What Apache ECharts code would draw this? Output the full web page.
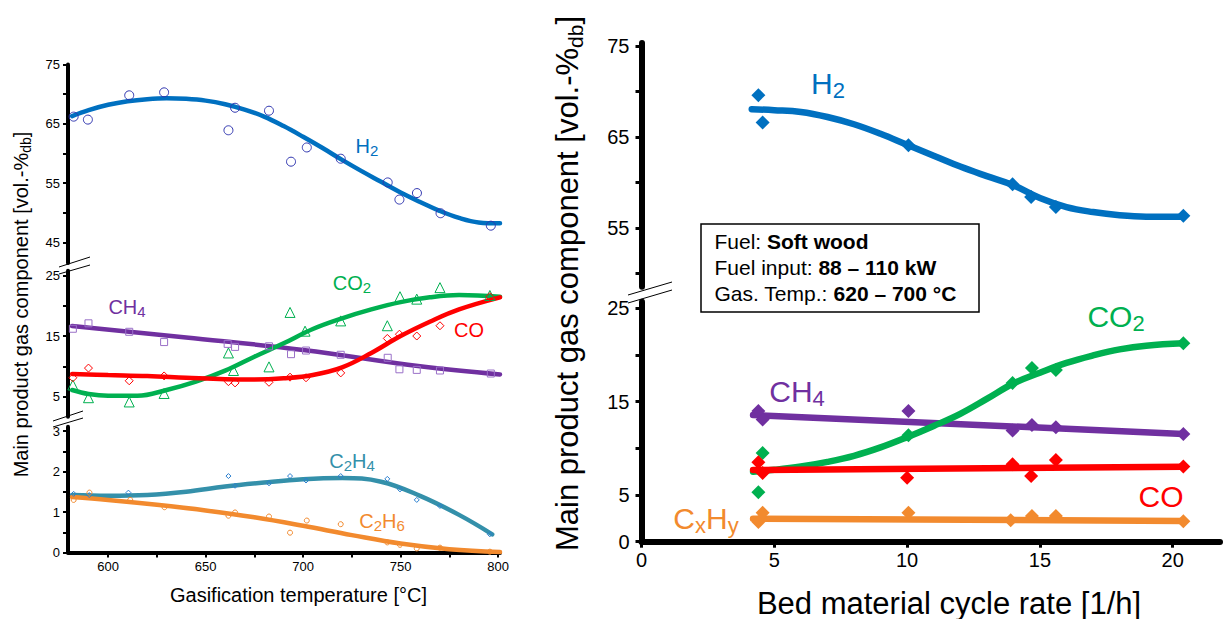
<!DOCTYPE html>
<html><head><meta charset="utf-8">
<script src="https://cdn.jsdelivr.net/npm/echarts@6/dist/echarts.min.js"></script>
<style>html,body{margin:0;padding:0;background:#fff}#c{width:1225px;height:619px}</style>
</head><body><div id="c"></div>
<script>
// ---------- LEFT PANEL DATA (x = gasification temperature in °C) ----------
const h2PtsL = [[582.3,66.2],[589.6,65.7],[610.8,69.8],[628.7,70.3],[661.7,63.9],[665.1,67.7],[682.5,67.2],[693.8,58.6],[701.9,61.0],[719.3,59.1],[743.4,55.1],[749.4,52.2],[758.4,53.3],[770.5,49.9],[796.3,47.8]];
const h2FitL = [[581.5,66.3],[590,67.3],[600,68.2],[610,68.8],[620,69.15],[630,69.3],[640,69.2],[650,68.9],[660,68.3],[670,67.4],[680,66.2],[690,64.6],[700,62.8],[710,60.9],[720,58.9],[730,57.0],[740,55.2],[750,53.4],[760,51.8],[770,50.3],[780,49.1],[790,48.35],[801,48.2]];
const ch4PtsL = [[581.9,16.2],[589.9,17.1],[610.8,15.7],[628.7,14.0],[661.3,13.7],[665.1,13.2],[682.5,13.3],[693.8,12.0],[701.5,12.6],[719.3,11.9],[743.4,11.4],[749.4,9.5],[758.3,9.4],[770.2,9.3],[796.3,8.8]];
const ch4FitL = [[581.5,16.65],[640,14.75],[700,12.7],[760,10.0],[801,8.65]];
const co2PtsL = [[581.9,6.9],[589.9,4.8],[610.8,4.1],[628.7,5.5],[661.7,12.2],[664.3,9.3],[682.5,9.9],[693.3,18.9],[701.0,15.8],[719.3,17.5],[743.2,16.7],[749.7,21.5],[758.3,21.1],[770.2,23.0],[795.8,21.7]];
const co2FitL = [[581.5,6.07],[590,5.41],[600,5.13],[615,5.13],[630,6.07],[645,7.45],[660,9.27],[675,11.58],[690,13.79],[705,16.16],[720,17.93],[735,19.4],[750,20.6],[765,21.4],[780,21.78],[801,21.5]];
const coPtsL = [[581.9,8.1],[589.9,9.7],[610.8,7.6],[628.7,8.4],[661.7,7.45],[665.1,7.25],[682.5,7.35],[693.3,8.2],[701.5,8.1],[719.3,8.9],[743.2,14.6],[749.4,15.3],[758.3,15.0],[770.2,16.7],[795.8,21.5]];
const coFitL = [[581.5,8.72],[600,8.55],[620,8.39],[640,8.1],[660,7.84],[675,7.8],[690,8.0],[705,8.55],[720,9.82],[735,12.2],[750,15.0],[765,17.37],[780,19.41],[801,21.4]];
const c2h4PtsL = [[582.3,1.45],[590.3,1.42],[610.4,1.48],[661.7,1.89],[665.1,1.65],[682.5,1.71],[693.3,1.89],[701.5,1.78],[719.3,1.89],[743.2,1.82],[749.7,1.56],[758.3,1.30],[770.2,1.15],[795.8,0.45]];
const c2h4FitL = [[581.5,1.42],[600,1.40],[620,1.42],[640,1.50],[660,1.63],[680,1.73],[700,1.81],[720,1.84],[740,1.75],[760,1.40],[780,0.93],[797,0.45]];
const c2h6PtsL = [[582.3,1.30],[590.4,1.48],[611.3,1.30],[628.9,1.12],[661.7,0.91],[665.1,0.99],[682.5,0.89],[693.3,0.49],[701.9,0.79],[719.3,0.70],[743.2,0.25],[749.7,0.19],[758.3,0.10],[770.2,0.12],[795.8,0.02]];
const c2h6FitL = [[581.5,1.37],[600,1.30],[625,1.18],[650,1.04],[675,0.87],[700,0.66],[725,0.43],[750,0.22],[775,0.08],[801,0.01]];

// ---------- RIGHT PANEL DATA (x = bed material cycle rate in 1/h) ----------
const h2PtsR = [[4.40,69.6],[4.56,66.6],[10.05,64.1],[13.97,59.8],[14.67,58.4],[15.6,57.3],[20.4,56.35]];
const h2FitR = [[4.15,68.05],[5,67.95],[6,67.75],[7,67.2],[8,66.4],[9,65.35],[10,64.15],[11,62.95],[12,61.75],[13,60.7],[14,59.7],[15,58.3],[16,57.3],[17,56.75],[18,56.4],[19,56.25],[20.4,56.25]];
const ch4PtsR = [[4.40,14.0],[4.56,13.1],[10.05,14.0],[13.97,11.9],[14.7,12.5],[15.6,12.25],[20.4,11.55]];
const ch4FitR = [[4.2,13.57],[20.4,11.54]];
const co2PtsR = [[4.40,5.3],[4.56,9.5],[10.05,11.4],[13.97,17.0],[14.7,18.6],[15.6,18.4],[20.4,21.25]];
const co2FitR = [[4.2,7.5],[5,7.7],[6,8.05],[7,8.55],[8,9.2],[9,10.1],[10,11.2],[11,12.4],[12,13.7],[13,15.3],[14,16.95],[15,18.1],[16,19.15],[17,19.95],[18,20.6],[19,21.0],[20.4,21.25]];
const coPtsR = [[4.40,8.5],[4.56,7.35],[10.0,6.85],[13.97,8.3],[14.67,7.05],[15.6,8.75],[20.4,8.05]];
const coFitR = [[4.2,7.68],[20.4,8.03]];
const cxhyPtsR = [[4.40,2.1],[4.56,3.1],[10.05,3.1],[13.9,2.3],[14.7,2.75],[15.6,2.75],[20.4,2.2]];
const cxhyFitR = [[4.2,2.47],[20.4,2.22]];

// ---------- TICKS ----------
const leftXTicks = [600,625,650,675,700,725,750,775,800];
const leftXLabels = [600,650,700,750,800];
const leftYTopTicks = [45,50,55,60,65,70,75];
const leftYTopLabels = [45,55,65,75];
const leftYMidTicks = [5,10,15,20,25];
const leftYMidLabels = [5,15,25];
const leftYBotTicks = [0,0.5,1,1.5,2,2.5,3];
const leftYBotLabels = [0,1,2,3];
const rightXTicks = [0,5,10,15,20];
const rightXLabels = [0,5,10,15,20];
const rightYTopTicks = [50,55,60,65,70,75];
const rightYTopLabels = [55,65,75];
const rightYBotTicks = [0,5,10,15,20,25];
const rightYBotLabels = [0,5,15,25];

const FONT = "'Liberation Sans', Arial, Helvetica, sans-serif";
const C = {h2:'#0070c0', ch4:'#7030a0', co2:'#00b050', co:'#ff0000', c2h4:'#3490aa', c2h6:'#f28a2e'};

function yAx(grid, min, max, ticks, labels, fs, lw, tl, margin) {
  return {type:'value', gridIndex:grid, min:min, max:max,
    axisLine:{show:true, onZero:false, lineStyle:{color:'#000', width:lw}},
    axisTick:{show:true, customValues:ticks, length:tl, lineStyle:{color:'#000', width:Math.max(1.5, lw/2)}},
    axisLabel:{show:true, customValues:labels, fontSize:fs, color:'#000', fontFamily:FONT, margin:margin},
    splitLine:{show:false}};
}
function xAx(grid, min, max, ticks, labels, fs, lw, tl, margin, show) {
  return {type:'value', gridIndex:grid, min:min, max:max, show:show,
    axisLine:{show:true, onZero:false, lineStyle:{color:'#000', width:lw}},
    axisTick:{show:true, customValues:ticks, length:tl, lineStyle:{color:'#000', width:Math.max(1.5, lw/2)}},
    axisLabel:{show:true, customValues:labels, fontSize:fs, color:'#000', fontFamily:FONT, margin:margin},
    splitLine:{show:false}};
}
function pts(data, ax, symbol, size, color, filled, bw) {
  return {type:'scatter', xAxisIndex:ax, yAxisIndex:ax, data:data, symbol:symbol, symbolSize:size, z:5, silent:true,
    itemStyle: filled ? {color:color, opacity:1} : {color:'rgba(255,255,255,0)', borderColor:color, borderWidth:bw||1, opacity:1}};
}
function fit(data, ax, color, w) {
  return {type:'line', xAxisIndex:ax, yAxisIndex:ax, data:data, smooth:0.4, showSymbol:false, symbol:'none', z:3, silent:true,
    lineStyle:{color:color, width:w, cap:'round'}};
}
function lbl(x, y, text, color, fs, sfs, shift) {
  return {type:'text', x:x, y:y, z:50, style:{text:text, fill:color, fontSize:fs, fontFamily:FONT, align:'center', verticalAlign:'middle', lineHeight:fs*1.2,
    rich:{s:{fontSize:sfs, fontFamily:FONT, fill:color, verticalAlign:'bottom', lineHeight:shift}}}};
}
function brk(x1,y1,x2,y2) {
  return {type:'line', z:50, shape:{x1:x1,y1:y1,x2:x2,y2:y2}, style:{stroke:'#000', lineWidth:1}};
}

const chart = echarts.init(document.getElementById('c'), null, {renderer:'svg'});
const LW = 4.5, RW = 6.5;
chart.setOption({
  animation:false,
  backgroundColor:'#fff',
  grid:[
    {left:68, top:64.5, width:432, height:198.5},
    {left:68, top:270.7, width:432, height:146},
    {left:68, top:426.7, width:432, height:125.8},
    {left:641.5, top:43, width:578.5, height:243.7},
    {left:641.5, top:301.7, width:578.5, height:240}
  ],
  xAxis:[
    xAx(0,579.4,801,leftXTicks,leftXLabels,13,4,5,7,false),
    xAx(1,579.4,801,leftXTicks,leftXLabels,13,4,5,7,false),
    xAx(2,579.4,801,leftXTicks,leftXLabels,13,4,5,7,true),
    xAx(3,0,21.78,rightXTicks,rightXLabels,20,6,6,8,false),
    xAx(4,0,21.78,rightXTicks,rightXLabels,20,6,6,8,true)
  ],
  yAxis:[
    yAx(0,41.5,75,leftYTopTicks,leftYTopLabels,13,4,5,8),
    yAx(1,1.66,25.8,leftYMidTicks,leftYMidLabels,13,4,5,8),
    yAx(2,0,3.11,leftYBotTicks,leftYBotLabels,13,4,5,8),
    yAx(3,48.55,75.33,rightYTopTicks,rightYTopLabels,20,6,6,12),
    yAx(4,0,25.71,rightYBotTicks,rightYBotLabels,20,6,6,12)
  ],
  series:[
    fit(h2FitL,0,C.h2,LW), pts(h2PtsL,0,'circle',9,'#3036b0',false,1),
    fit(ch4FitL,1,C.ch4,LW), pts(ch4PtsL,1,'rect',7,'#9a70c8',false,1),
    fit(co2FitL,1,C.co2,LW), pts(co2PtsL,1,'triangle',10,C.co2,false,1),
    fit(coFitL,1,C.co,LW), pts(coPtsL,1,'diamond',8,C.co,false,1),
    fit(c2h4FitL,2,C.c2h4,LW), pts(c2h4PtsL,2,'diamond',5,'#2a7fd0',false,1),
    fit(c2h6FitL,2,C.c2h6,LW), pts(c2h6PtsL,2,'circle',5,C.c2h6,false,1),
    fit(h2FitR,3,C.h2,RW), pts(h2PtsR,3,'diamond',14,C.h2,true),
    fit(ch4FitR,4,C.ch4,RW), pts(ch4PtsR,4,'diamond',14,C.ch4,true),
    fit(co2FitR,4,C.co2,RW), pts(co2PtsR,4,'diamond',14,C.co2,true),
    fit(coFitR,4,C.co,RW), pts(coPtsR,4,'diamond',14,C.co,true),
    fit(cxhyFitR,4,C.c2h6,RW), pts(cxhyPtsR,4,'diamond',14,C.c2h6,true)
  ],
  graphic:[
    {type:'text', x:21, y:304.5, rotation:Math.PI/2, z:50, style:{text:'Main product gas component [vol.-%{s|db}]', fill:'#000', fontSize:20, fontFamily:FONT, align:'center', verticalAlign:'middle', lineHeight:24,
      rich:{s:{fontSize:14, fontFamily:FONT, fill:'#000', verticalAlign:'bottom', lineHeight:10}}}},
    {type:'text', x:298.5, y:595, z:50, style:{text:'Gasification temperature [°C]', fill:'#000', fontSize:20, fontFamily:FONT, align:'center', verticalAlign:'middle'}},
    {type:'text', x:567, y:283.5, rotation:Math.PI/2, z:50, style:{text:'Main product gas component [vol.-%{s|db}]', fill:'#000', fontSize:31, fontFamily:FONT, align:'center', verticalAlign:'middle', lineHeight:37,
      rich:{s:{fontSize:21, fontFamily:FONT, fill:'#000', verticalAlign:'bottom', lineHeight:15}}}},
    {type:'text', x:949, y:603, z:50, style:{text:'Bed material cycle rate [1/h]', fill:'#000', fontSize:31, fontFamily:FONT, align:'center', verticalAlign:'middle'}},
    lbl(367,146,'H{s|2}',C.h2,20,15,10),
    lbl(352,283,'CO{s|2}',C.co2,20,15,10),
    lbl(127,307,'CH{s|4}',C.ch4,20,15,10),
    lbl(469,330,'CO',C.co,20,15,10),
    lbl(352,461,'C{s|2}H{s|4}',C.c2h4,20,15,10),
    lbl(382,521,'C{s|2}H{s|6}',C.c2h6,20,15,10),
    lbl(828,83,'H{s|2}',C.h2,30,22,16),
    lbl(1116,316,'CO{s|2}',C.co2,30,22,16),
    lbl(797,391,'CH{s|4}',C.ch4,30,22,16),
    lbl(1161,496,'CO',C.co,30,22,16),
    lbl(706,518,'C{s|x}H{s|y}',C.c2h6,30,22,16),
    {type:'rect', z:40, shape:{x:701, y:224, width:278, height:88}, style:{fill:'#fff', stroke:'#000', lineWidth:1.5}},
    {type:'text', x:714.5, y:241, z:50, style:{text:'Fuel: {b|Soft wood}', fill:'#000', fontSize:21, fontFamily:FONT, align:'left', verticalAlign:'middle', rich:{b:{fontSize:21, fontFamily:FONT, fontWeight:'bold', fill:'#000'}}}},
    {type:'text', x:714.5, y:267, z:50, style:{text:'Fuel input: {b|88 – 110 kW}', fill:'#000', fontSize:21, fontFamily:FONT, align:'left', verticalAlign:'middle', rich:{b:{fontSize:21, fontFamily:FONT, fontWeight:'bold', fill:'#000'}}}},
    {type:'text', x:714.5, y:293, z:50, style:{text:'Gas. Temp.: {b|620 – 700 °C}', fill:'#000', fontSize:21, fontFamily:FONT, align:'left', verticalAlign:'middle', rich:{b:{fontSize:21, fontFamily:FONT, fontWeight:'bold', fill:'#000'}}}},
    brk(59,267,90,257), brk(59,274,90,265),
    brk(53,421,83,411), brk(53,427,83,418),
    brk(628,295,672,282), brk(628,303,672,290)
  ]
});
</script>
</body></html>
